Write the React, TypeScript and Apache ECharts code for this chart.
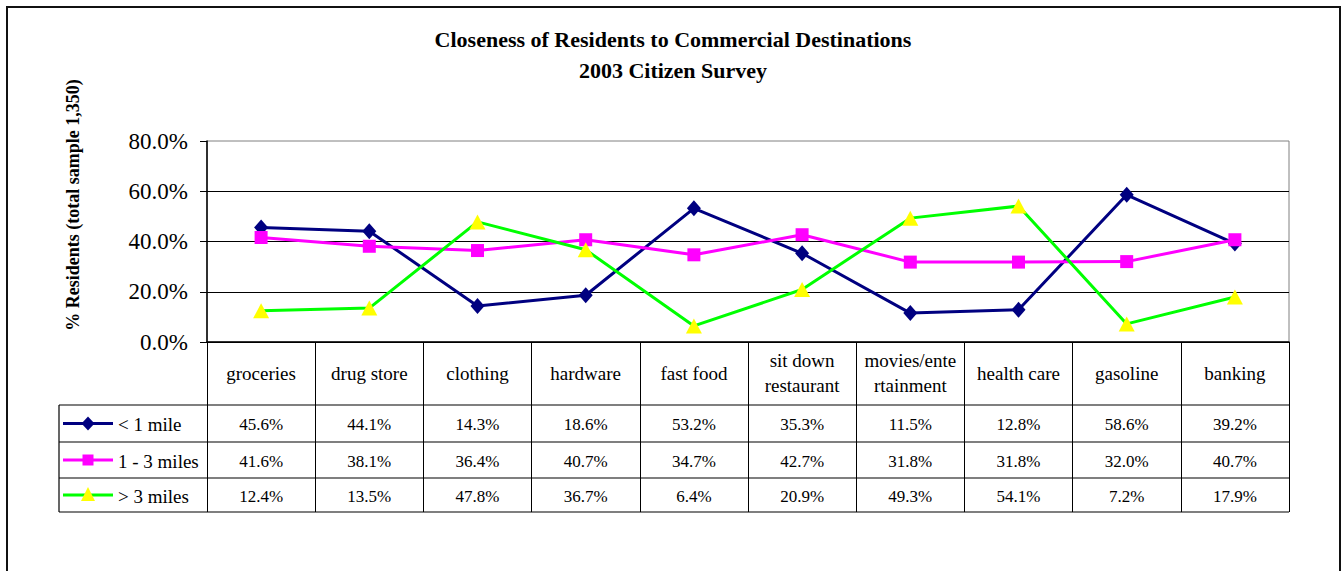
import React, { useEffect, useRef } from "react";
import * as echarts from "echarts";

const categories = [
  "groceries",
  "drug store",
  "clothing",
  "hardware",
  "fast food",
  "sit down\nrestaurant",
  "movies/ente\nrtainment",
  "health care",
  "gasoline",
  "banking",
];
const underOneMile = [45.6, 44.1, 14.3, 18.6, 53.2, 35.3, 11.5, 12.8, 58.6, 39.2];
const oneToThreeMiles = [41.6, 38.1, 36.4, 40.7, 34.7, 42.7, 31.8, 31.8, 32.0, 40.7];
const overThreeMiles = [12.4, 13.5, 47.8, 36.7, 6.4, 20.9, 49.3, 54.1, 7.2, 17.9];
const seriesNames = ["< 1 mile", "1 - 3 miles", "> 3 miles"];
const yMin = 0;
const yMax = 80;
const yInterval = 20;
const titleText = "Closeness of Residents to Commercial Destinations\n2003 Citizen Survey";
const yAxisTitle = "% Residents (total sample 1,350)";

const FONT = "Liberation Serif";

export default function App() {
  const ref = useRef<HTMLDivElement>(null);

  useEffect(() => {
    if (!ref.current) return;
    const chart = echarts.init(ref.current, null, { renderer: "svg" });

    const gridLeft = 207;
    const gridRight = 1289;
    const gridTop = 141;
    const gridBottom = 342;
    const tableLeft = 59;
    const rowLines = [405, 442, 478, 512];

    const lineColors = ["#000080", "#FF00FF", "#00FF00"];
    const markerColors = ["#000080", "#FF00FF", "#FFFF00"];
    const symbols = ["diamond", "rect", "triangle"];
    const symbolSizes = [[14, 16], [13, 13], [16, 15]];
    const dataSets = [underOneMile, oneToThreeMiles, overThreeMiles];

    chart.setOption({
      animation: false,
      backgroundColor: "#fff",
      title: {
        text: titleText,
        left: 673,
        textAlign: "center",
        top: 24,
        padding: 0,
        textStyle: {
          fontFamily: FONT,
          fontWeight: "bold",
          fontSize: 22,
          lineHeight: 31,
          color: "#000",
        },
      },
      grid: {
        left: gridLeft,
        right: 1342 - gridRight,
        top: gridTop,
        height: gridBottom - gridTop,
        show: true,
        borderColor: "#808080",
        borderWidth: 1,
        backgroundColor: "transparent",
      },
      xAxis: {
        type: "category",
        data: categories,
        boundaryGap: true,
        axisLine: { show: true, lineStyle: { color: "#000", width: 1.5 } },
        axisTick: {
          show: true,
          interval: 0,
          length: rowLines[rowLines.length - 1] - gridBottom,
          lineStyle: { color: "#000", width: 1 },
        },
        axisLabel: {
          interval: 0,
          margin: 31,
          verticalAlign: "middle",
          fontFamily: FONT,
          fontSize: 19,
          lineHeight: 25,
          color: "#000",
        },
        splitLine: { show: false },
      },
      yAxis: {
        type: "value",
        min: yMin,
        max: yMax,
        interval: yInterval,
        axisLine: { show: true, lineStyle: { color: "#000", width: 1.5 } },
        axisTick: { show: true, length: 7, lineStyle: { color: "#000" } },
        axisLabel: {
          margin: 19,
          fontFamily: FONT,
          fontSize: 23,
          color: "#000",
          formatter: (v: number) => v.toFixed(1) + "%",
        },
        splitLine: {
          show: true,
          showMaxLine: false,
          lineStyle: { color: "#000", width: 1 },
        },
      },
      series: dataSets.map((d, i) => ({
        name: seriesNames[i],
        type: "line",
        data: d,
        symbol: symbols[i],
        symbolSize: symbolSizes[i],
        showAllSymbol: true,
        lineStyle: { color: lineColors[i], width: 3 },
        itemStyle: { color: markerColors[i], borderColor: markerColors[i], borderWidth: 0 },
        z: 3 + i,
      })),
    });

    const centers = categories.map((_, i) =>
      chart.convertToPixel({ xAxisIndex: 0 }, i) as number
    );

    const graphics: any[] = [];
    graphics.push({
      type: "rect",
      shape: { x: 7, y: 7, width: 1333, height: 620 },
      style: { fill: "none", stroke: "#111", lineWidth: 2 },
      silent: true,
    });
    graphics.push({
      type: "text",
      x: 73,
      y: 205,
      rotation: Math.PI / 2,
      style: {
        text: yAxisTitle,
        fontFamily: FONT,
        fontWeight: "bold",
        fontSize: 18,
        fill: "#000",
        align: "center",
        verticalAlign: "middle",
      },
    });
    rowLines.forEach((y) => {
      graphics.push({
        type: "line",
        shape: { x1: tableLeft, y1: y, x2: gridRight, y2: y },
        style: { stroke: "#000", lineWidth: 1.2 },
      });
    });
    graphics.push({
      type: "line",
      shape: { x1: tableLeft, y1: rowLines[0], x2: tableLeft, y2: rowLines[rowLines.length - 1] },
      style: { stroke: "#000", lineWidth: 1.2 },
    });
    dataSets.forEach((d, r) => {
      const cy = (rowLines[r] + rowLines[r + 1]) / 2;
      graphics.push({
        type: "line",
        shape: { x1: 63, y1: cy, x2: 113, y2: cy },
        style: { stroke: lineColors[r], lineWidth: 3 },
      });
      if (r === 0) {
        graphics.push({
          type: "polygon",
          shape: { points: [[88, cy - 7], [94.5, cy], [88, cy + 7], [81.5, cy]] },
          style: { fill: markerColors[r] },
        });
      } else if (r === 1) {
        graphics.push({
          type: "rect",
          shape: { x: 82.5, y: cy - 5.5, width: 11, height: 11 },
          style: { fill: markerColors[r] },
        });
      } else {
        graphics.push({
          type: "polygon",
          shape: { points: [[88, cy - 8], [95, cy + 6], [81, cy + 6]] },
          style: { fill: markerColors[r] },
        });
      }
      graphics.push({
        type: "text",
        x: 118,
        y: cy + 1,
        style: {
          text: seriesNames[r],
          fontFamily: FONT,
          fontSize: 19,
          fill: "#000",
          align: "left",
          verticalAlign: "middle",
        },
      });
      d.forEach((v, c) => {
        graphics.push({
          type: "text",
          x: centers[c],
          y: cy + 1,
          style: {
            text: v.toFixed(1) + "%",
            fontFamily: FONT,
            fontSize: 17,
            fill: "#000",
            align: "center",
            verticalAlign: "middle",
          },
        });
      });
    });

    chart.setOption({ graphic: graphics });

    return () => chart.dispose();
  }, []);

  return (
    <div
      ref={ref}
      style={{ position: "absolute", left: 0, top: 0, width: 1342, height: 571 }}
    />
  );
}
